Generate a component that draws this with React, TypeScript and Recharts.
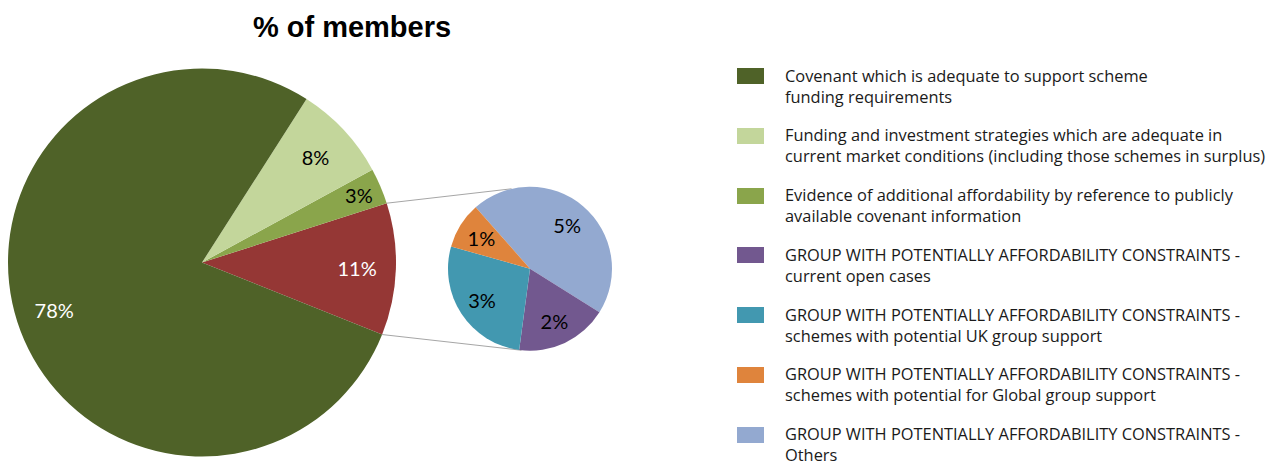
import { Cell, Customized, Legend, Pie, PieChart } from "recharts";

// main pie, counter-clockwise from the lower edge of the split-out slice
const mainCategories = [
  "Group with potentially affordability constraints",
  "Evidence of additional affordability",
  "Funding and investment strategies",
  "Covenant"
];
const mainValues = [11, 3, 8, 78];

// second pie = breakdown of the 11%
const subCategories = ["Others", "Current open cases", "UK group support", "Global group support"];
const subValues = [5, 2, 3, 1];

const legendLabels = [
  ["Covenant which is adequate to support scheme", "funding requirements"],
  ["Funding and investment strategies which are adequate in", "current market conditions (including those schemes in surplus)"],
  ["Evidence of additional affordability by reference to publicly", "available covenant information"],
  ["GROUP WITH POTENTIALLY AFFORDABILITY CONSTRAINTS -", "current open cases"],
  ["GROUP WITH POTENTIALLY AFFORDABILITY CONSTRAINTS -", "schemes with potential UK group support"],
  ["GROUP WITH POTENTIALLY AFFORDABILITY CONSTRAINTS -", "schemes with potential for Global group support"],
  ["GROUP WITH POTENTIALLY AFFORDABILITY CONSTRAINTS -", "Others"]
];
const legendKeys = [
  "Covenant",
  "Funding and investment strategies",
  "Evidence of additional affordability",
  "Current open cases",
  "UK group support",
  "Global group support",
  "Others"
];

const colors: Record<string, string> = {
  Covenant: "#4f6228",
  "Funding and investment strategies": "#c3d69b",
  "Evidence of additional affordability": "#8aa54b",
  "Group with potentially affordability constraints": "#953735",
  Others: "#93a9d0",
  "Current open cases": "#72588f",
  "UK group support": "#4298b0",
  "Global group support": "#df843c"
};
const whiteLabels = ["Covenant", "Group with potentially affordability constraints"];

const mainData = mainCategories.map((name, i) => ({ name, value: mainValues[i] }));
const subData = subCategories.map((name, i) => ({ name, value: subValues[i] }));

const FONT = "Lato, 'Open Sans', sans-serif";
const LEGEND_FONT = "'Open Sans', Lato, sans-serif";
const RAD = Math.PI / 180;

const MAIN = { cx: 202, cy: 262.5, r: 194, start: -21.8 };
const SUB = { cx: 530, cy: 268.7, r: 82, start: 131.5 };

function pointAt(cx: number, cy: number, r: number, angle: number) {
  return { x: cx + r * Math.cos(angle * RAD), y: cy - r * Math.sin(angle * RAD) };
}

function sliceLabel(factor: (p: number) => number) {
  return (props: any) => {
    const { cx, cy, midAngle, outerRadius, percent, value, name } = props;
    const p = pointAt(cx, cy, outerRadius * factor(percent), midAngle);
    return (
      <text
        x={p.x}
        y={p.y}
        textAnchor="middle"
        dominantBaseline="central"
        fontFamily={FONT}
        fontSize={20}
        fill={whiteLabels.includes(name) ? "#ffffff" : "#000000"}
      >
        {value}%
      </text>
    );
  };
}

function Decorations() {
  const total = mainValues.reduce((a, b) => a + b, 0);
  const lowA = MAIN.start;
  const highA = MAIN.start + (mainValues[0] / total) * 360;
  const fromTop = pointAt(MAIN.cx, MAIN.cy, MAIN.r, highA);
  const fromBottom = pointAt(MAIN.cx, MAIN.cy, MAIN.r, lowA);
  const toTop = pointAt(SUB.cx, SUB.cy, SUB.r, 103);
  const toBottom = pointAt(SUB.cx, SUB.cy, SUB.r, -96);
  return (
    <g>
      <text x={352} y={37} textAnchor="middle" fontFamily="'Liberation Sans', Arial, sans-serif" fontWeight="bold" fontSize={29} fill="#000">
        % of members
      </text>
      <line x1={fromTop.x} y1={fromTop.y} x2={toTop.x} y2={toTop.y} stroke="#a6a6a6" strokeWidth={1} />
      <line x1={fromBottom.x} y1={fromBottom.y} x2={toBottom.x} y2={toBottom.y} stroke="#a6a6a6" strokeWidth={1} />
    </g>
  );
}

function LegendBox() {
  return (
    <div style={{ fontFamily: LEGEND_FONT, fontSize: 16.4, color: "#1a1a1a" }}>
      {legendKeys.map((key, i) => (
        <div key={key} style={{ display: "flex", height: 59.8, alignItems: "flex-start" }}>
          <div style={{ width: 27, height: 16, background: colors[key], marginRight: 21, marginTop: 2, flexShrink: 0 }} />
          <div style={{ lineHeight: "21px", marginTop: -1.5, whiteSpace: "nowrap", textAlign: "left" }}>
            <div>{legendLabels[i][0]}</div>
            <div>{legendLabels[i][1]}</div>
          </div>
        </div>
      ))}
    </div>
  );
}

export default function App() {
  return (
    <div style={{ position: "absolute", left: 0, top: 0, width: 1284, height: 467, background: "#fff" }}>
      <PieChart width={1284} height={467} margin={{ top: 0, right: 0, bottom: 0, left: 0 }}>
        <Pie
          data={mainData}
          dataKey="value"
          nameKey="name"
          cx={MAIN.cx}
          cy={MAIN.cy}
          outerRadius={MAIN.r}
          startAngle={MAIN.start}
          endAngle={MAIN.start + 360}
          stroke="none"
          labelLine={false}
          label={sliceLabel((p) => (p < 0.05 ? 0.88 : 0.8))}
          isAnimationActive={false}
        >
          {mainData.map((d) => (
            <Cell key={d.name} fill={colors[d.name]} />
          ))}
        </Pie>
        <Pie
          data={subData}
          dataKey="value"
          nameKey="name"
          cx={SUB.cx}
          cy={SUB.cy}
          outerRadius={SUB.r}
          startAngle={SUB.start}
          endAngle={SUB.start - 360}
          stroke="none"
          labelLine={false}
          label={sliceLabel(() => 0.7)}
          isAnimationActive={false}
        >
          {subData.map((d) => (
            <Cell key={d.name} fill={colors[d.name]} />
          ))}
        </Pie>
        <Customized component={Decorations} />
        <Legend
          layout="vertical"
          align="right"
          verticalAlign="top"
          content={() => <LegendBox />}
          wrapperStyle={{ left: 737, top: 66, width: 547, right: "auto" }}
        />
      </PieChart>
    </div>
  );
}
